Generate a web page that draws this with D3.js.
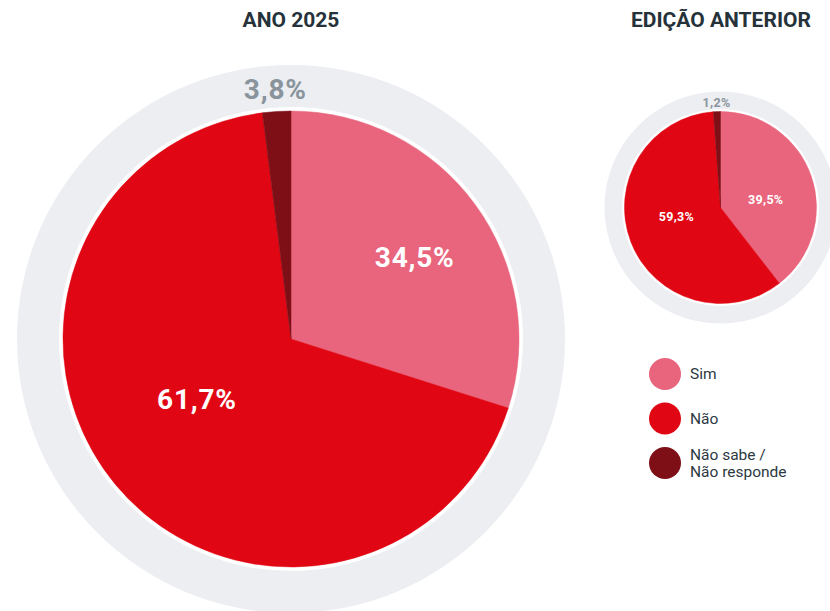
<!DOCTYPE html>
<html><head><meta charset="utf-8">
<script src="https://cdn.jsdelivr.net/npm/d3@7/dist/d3.min.js"></script>
<style>
html,body{margin:0;padding:0;background:#fff;}
svg{display:block;font-family:Roboto,"Open Sans",sans-serif;}
</style></head>
<body>
<svg id="chart" width="830" height="611"></svg>
<script>
// ---- data ----
const categories = ["Sim", "Não", "Não sabe / Não responde"];
const colors = ["#E9647D", "#E10613", "#7E0F17"];
// labels shown on the chart
const labels2025 = ["34,5%", "61,7%", "3,8%"];
const labelsPrev = ["39,5%", "59,3%", "1,2%"];
// slice shares as drawn in the picture
const values2025 = [29.9, 68.1, 2.0];
const valuesPrev = [39.5, 59.3, 1.2];
const titles = ["ANO 2025", "EDIÇÃO ANTERIOR"];

const svg = d3.select("#chart");

function drawPie(opt) {
  const g = svg.append("g").attr("transform", `translate(${opt.cx},${opt.cy})`);
  g.append("circle").attr("r", opt.ringR).attr("fill", "#ECEEF2");
  g.append("circle").attr("r", opt.r + opt.gap).attr("fill", "#fff");
  const pie = d3.pie().sort(null).value(d => d.v);
  const data = pie(opt.values.map((v, i) => ({v, i})));
  const arc = d3.arc().innerRadius(0).outerRadius(opt.r);
  g.selectAll("path.slice").data(data).join("path")
    .attr("class", "slice")
    .attr("d", arc)
    .attr("fill", d => colors[d.data.i])
    .attr("stroke", d => colors[d.data.i]).attr("stroke-width", 0.5);
  data.forEach((d, i) => {
    const lr = opt.labelR[i];
    const la = d3.arc().innerRadius(lr).outerRadius(lr);
    const [x, y] = la.centroid({startAngle: d.startAngle + opt.labelShift[i], endAngle: d.endAngle + opt.labelShift[i]});
    g.append("text")
      .attr("x", x).attr("y", y)
      .attr("text-anchor", "middle").attr("dominant-baseline", "central")
      .attr("font-weight", 700)
      .attr("font-size", opt.fontSize)
      .attr("letter-spacing", opt.spacing)
      .attr("fill", i === 2 ? "#8A949C" : "#fff")
      .text(opt.labels[i]);
  });
}

drawPie({cx: 291, cy: 339, r: 228, gap: 4, ringR: 274, values: values2025, labels: labels2025,
  labelR: [148, 112, 250], labelShift: [0.05, 0.12, 0], fontSize: 28, spacing: 0.8});
drawPie({cx: 720.5, cy: 207.5, r: 96, gap: 2.5, ringR: 116, values: valuesPrev, labels: labelsPrev,
  labelR: [46, 45, 105], labelShift: [0.15, 0.17, 0], fontSize: 12.5, spacing: 0.3});

svg.selectAll("text.title").data(titles).join("text")
  .attr("class", "title")
  .attr("x", (d, i) => i === 0 ? 291 : 721)
  .attr("y", 20)
  .attr("text-anchor", "middle").attr("dominant-baseline", "central")
  .attr("font-weight", 700).attr("font-size", 21)
  .attr("fill", "#26323A")
  .text(d => d);

// legend
const leg = svg.append("g").attr("transform", "translate(665,374)");
const legLines = [["Sim"], ["Não"], ["Não sabe /", "Não responde"]];
categories.forEach((c, i) => {
  const gy = i * 44.5;
  leg.append("circle").attr("cx", 0).attr("cy", gy).attr("r", 16).attr("fill", colors[i]);
  const lines = legLines[i];
  lines.forEach((ln, j) => {
    leg.append("text").attr("x", 25)
      .attr("y", gy + (j - (lines.length - 1) / 2) * 17)
      .attr("dominant-baseline", "central")
      .attr("font-size", 15.5).attr("fill", "#2C3942")
      .text(ln);
  });
});
</script>
</body></html>
